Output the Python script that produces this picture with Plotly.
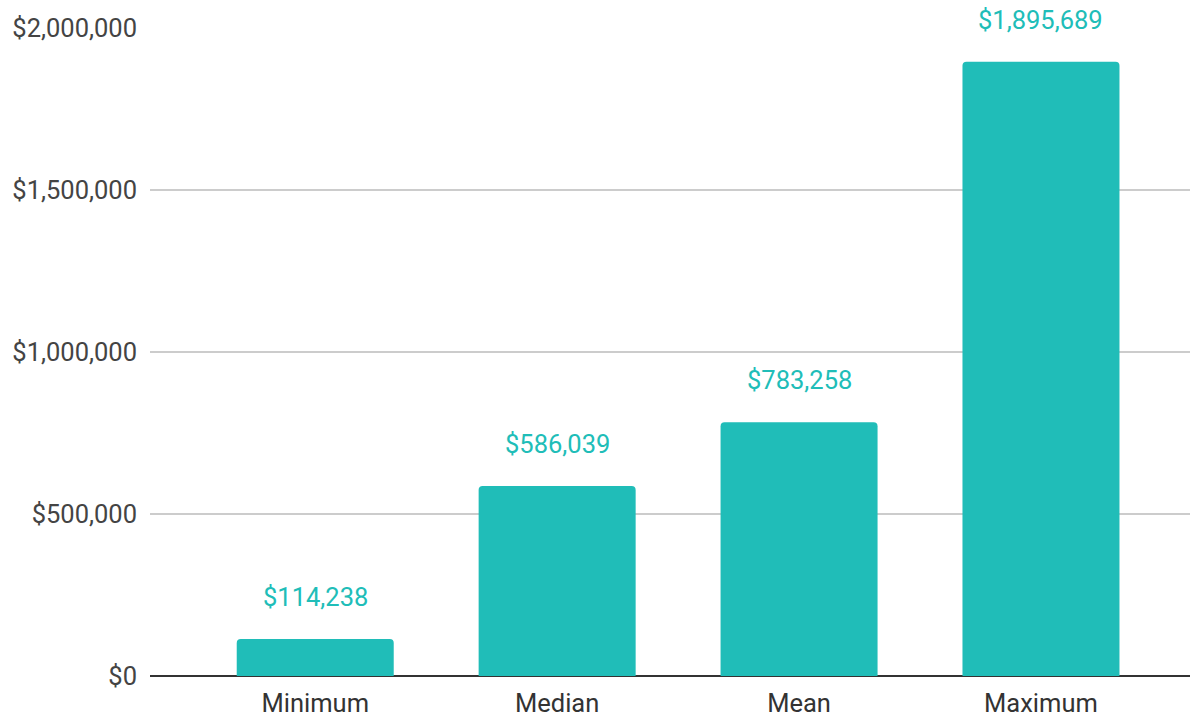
import plotly.graph_objects as go

categories = ["Minimum", "Median", "Mean", "Maximum"]
values = [114238, 586039, 783258, 1895689]
tick_values = [0, 500000, 1000000, 1500000, 2000000]
tick_labels = ["$0", "$500,000", "$1,000,000", "$1,500,000", "$2,000,000"]

teal = "#20BDB8"
font_family = "Roboto, sans-serif"
font_size = 25.5

fig = go.Figure(
    go.Bar(
        x=categories,
        y=values,
        width=0.649,
        marker=dict(color=teal, cornerradius=4, line=dict(width=0)),
        hoverinfo="skip",
    )
)

# Value labels above each bar, with a white box that breaks the gridlines
for cat, val in zip(categories, values):
    fig.add_annotation(
        x=cat,
        y=val,
        text=f"${val:,.0f}",
        showarrow=False,
        yshift=42,
        yanchor="middle",
        bgcolor="white",
        borderpad=4,
        font=dict(family=font_family, size=font_size, color=teal),
    )

fig.update_layout(
    width=1190,
    height=717,
    margin=dict(l=150, r=0, t=28, b=41, autoexpand=False),
    paper_bgcolor="white",
    plot_bgcolor="white",
    showlegend=False,
    font=dict(family=font_family, size=font_size, color="#444444"),
    xaxis=dict(
        type="category",
        range=[-0.683, 3.616],
        automargin=False,
        showgrid=False,
        showline=False,
        ticks="",
        ticklabelstandoff=9,
        tickfont=dict(family=font_family, size=font_size, color="#333333"),
    ),
    yaxis=dict(
        range=[0, 2000000],
        automargin=False,
        tickvals=tick_values,
        ticktext=tick_labels,
        showgrid=True,
        gridcolor="#CCCCCC",
        gridwidth=1.5,
        zeroline=True,
        zerolinecolor="#333333",
        zerolinewidth=2,
        showline=False,
        ticks="",
        ticklabelstandoff=12,
        tickfont=dict(family=font_family, size=font_size, color="#444444"),
    ),
)

fig.write_html("out.html")
